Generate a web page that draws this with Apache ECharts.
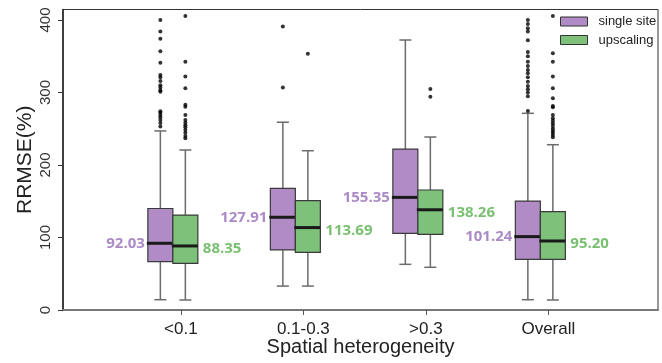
<!DOCTYPE html>
<html lang="en">
<head>
<meta charset="UTF-8">
<title>RRMSE boxplot</title>
<script src="https://cdn.jsdelivr.net/npm/echarts@6/dist/echarts.min.js"></script>
<style>
  html, body { margin: 0; padding: 0; background: #fff; }
</style>
</head>
<body>
<div id="main" style="width: 662px; height: 363px"></div>
<script>
var categories = ['<0.1', '0.1-0.3', '>0.3', 'Overall'];
var seriesNames = ['single site', 'upscaling'];

// [min, Q1, median, Q3, max] per category
var singleStats = [
  [14.2, 66.7, 92.03, 140, 247],
  [33, 82.8, 127.91, 167.8, 259],
  [63, 105.8, 155.35, 222, 372.4],
  [14.2, 69.9, 101.24, 150.3, 271.3]
];
var upStats = [
  [13.8, 64.4, 88.35, 131, 220.7],
  [33, 79.6, 113.69, 150.8, 219.7],
  [58.9, 104.4, 138.26, 165.5, 238.6],
  [13.8, 69.9, 95.20, 135.6, 228]
];
var singleLabels = ['92.03', '127.91', '155.35', '101.24'];
var upLabels = ['88.35', '113.69', '138.26', '95.20'];

// outliers per category
var singleOut = [
  [400, 384, 374, 357, 341, 324, 321, 316, 310, 307, 303, 301, 274, 272, 269, 266, 262, 258, 253],
  [391, 307],
  [],
  [400, 394.5, 388.5, 384, 372, 356, 350, 342.5, 336.5, 331, 326.5, 321, 315, 309, 304.5, 300, 295, 274.5]
];
var upOut = [
  [405.5, 342.5, 322, 306, 283, 280.5, 269, 262, 258.3, 255, 252, 248.3, 244.6, 240, 237],
  [353.5],
  [305, 294],
  [405.5, 354, 342.5, 322, 306, 292, 281.5, 279.5, 269, 264.5, 261, 257.5, 254, 250.5, 247.3, 244.6, 241.4, 238.2]
];
var yTicks = [0, 100, 200, 300, 400];

var PURPLE = '#b08bc5', GREEN = '#7dc17a';
var PURPLE_TXT = '#ab8bc6', GREEN_TXT = '#79c171';
var BOX_W = 25, CAP_W = 12, SHIFT = -8;
var FONT = 'Liberation Sans, Arial, sans-serif';

function boxData(stats) {
  return stats.map(function (s, i) { return [i].concat(s); });
}
function outData(lists) {
  var out = [];
  lists.forEach(function (l, i) { l.forEach(function (v) { out.push([i, v]); }); });
  return out;
}

// side -1 = left box of the pair, +1 = right box
function boxRenderer(side, color, txtColor, labels) {
  return function (params, api) {
    var k = api.value(0);
    var cx = api.coord([k, 0])[0] + SHIFT + side * BOX_W / 2;
    var yMin = api.coord([k, api.value(1)])[1];
    var yQ1 = api.coord([k, api.value(2)])[1];
    var yMed = api.coord([k, api.value(3)])[1];
    var yQ3 = api.coord([k, api.value(4)])[1];
    var yMax = api.coord([k, api.value(5)])[1];
    var wStyle = { stroke: '#6b6b6b', lineWidth: 1.5 };
    return {
      type: 'group',
      children: [
        { type: 'line', shape: { x1: cx, y1: yMax, x2: cx, y2: yQ3 }, style: wStyle },
        { type: 'line', shape: { x1: cx, y1: yQ1, x2: cx, y2: yMin }, style: wStyle },
        { type: 'line', shape: { x1: cx - CAP_W / 2, y1: yMax, x2: cx + CAP_W / 2, y2: yMax }, style: wStyle },
        { type: 'line', shape: { x1: cx - CAP_W / 2, y1: yMin, x2: cx + CAP_W / 2, y2: yMin }, style: wStyle },
        { type: 'rect', shape: { x: cx - BOX_W / 2, y: yQ3, width: BOX_W, height: yQ1 - yQ3 },
          style: { fill: color, stroke: '#3a3a3a', lineWidth: 1.2 } },
        { type: 'line', shape: { x1: cx - BOX_W / 2 - 1, y1: yMed, x2: cx + BOX_W / 2, y2: yMed },
          style: { stroke: '#1a1a1a', lineWidth: 3 } },
        { type: 'text',
          x: side < 0 ? cx - BOX_W / 2 - 3 : cx + BOX_W / 2 + 5,
          y: side < 0 ? yMed : yMed + 3,
          style: { text: labels[params.dataIndex], fill: txtColor, font: 'bold 15px "Open Sans", sans-serif',
                   align: side < 0 ? 'right' : 'left', verticalAlign: 'middle' } }
      ]
    };
  };
}

var option = {
  backgroundColor: '#fff',
  animation: false,
  grid: { left: 63, right: 4, top: 9.5, bottom: 53, show: true, borderColor: '#333', borderWidth: 1,
          outerBoundsMode: 'none', containLabel: false },
  legend: {
    orient: 'vertical', left: 560, top: 15, padding: 0,
    itemWidth: 27, itemHeight: 9, itemGap: 5.5, icon: 'rect',
    textStyle: { fontFamily: FONT, fontSize: 13, color: '#222', padding: [0, 0, 0, 6] },
    data: [
      { name: seriesNames[0], itemStyle: { color: PURPLE, borderColor: '#333', borderWidth: 1 } },
      { name: seriesNames[1], itemStyle: { color: GREEN, borderColor: '#333', borderWidth: 1 } }
    ]
  },
  xAxis: {
    type: 'value', min: -0.962, max: 3.895,
    name: 'Spatial heterogeneity', nameLocation: 'middle', nameGap: 27, nameMoveOverlap: false,
    nameTextStyle: { fontFamily: FONT, fontSize: 20, color: '#222' },
    axisLine: { show: true, lineStyle: { color: '#777', width: 2 } },
    axisTick: { show: true, length: 5, customValues: [0, 1, 2, 3], lineStyle: { color: '#555' } },
    axisLabel: { customValues: [0, 1, 2, 3], margin: 11, fontFamily: FONT, fontSize: 17, color: '#222',
      formatter: function (v) { return categories[Math.round(v)]; } },
    splitLine: { show: false }
  },
  yAxis: {
    type: 'value', min: 0, max: 414.5,
    name: 'RRMSE(%)', nameLocation: 'middle', nameGap: 27, nameMoveOverlap: false,
    nameTextStyle: { fontFamily: FONT, fontSize: 21, color: '#222' },
    axisLine: { show: true, onZero: false, lineStyle: { color: '#222', width: 1.5 } },
    axisTick: { show: true, length: 5, customValues: yTicks, lineStyle: { color: '#333' } },
    axisLabel: { customValues: yTicks, rotate: 90, margin: 10, fontFamily: FONT, fontSize: 15, color: '#333' },
    splitLine: { show: false }
  },
  series: [
    { name: seriesNames[0], type: 'custom', itemStyle: { color: PURPLE },
      renderItem: boxRenderer(-1, PURPLE, PURPLE_TXT, singleLabels), encode: { x: 0, y: [1, 2, 3, 4, 5] },
      data: boxData(singleStats), z: 2 },
    { name: seriesNames[1], type: 'custom', itemStyle: { color: GREEN },
      renderItem: boxRenderer(1, GREEN, GREEN_TXT, upLabels), encode: { x: 0, y: [1, 2, 3, 4, 5] },
      data: boxData(upStats), z: 2 },
    { name: 'single outliers', type: 'scatter', symbolSize: 4, symbolOffset: [SHIFT - BOX_W / 2, 0],
      itemStyle: { color: '#000' }, data: outData(singleOut), z: 3 },
    { name: 'up outliers', type: 'scatter', symbolSize: 4, symbolOffset: [SHIFT + BOX_W / 2, 0],
      itemStyle: { color: '#000' }, data: outData(upOut), z: 3 }
  ]
};

var myChart = echarts.init(document.getElementById('main'));
myChart.setOption(option);
</script>
</body>
</html>
